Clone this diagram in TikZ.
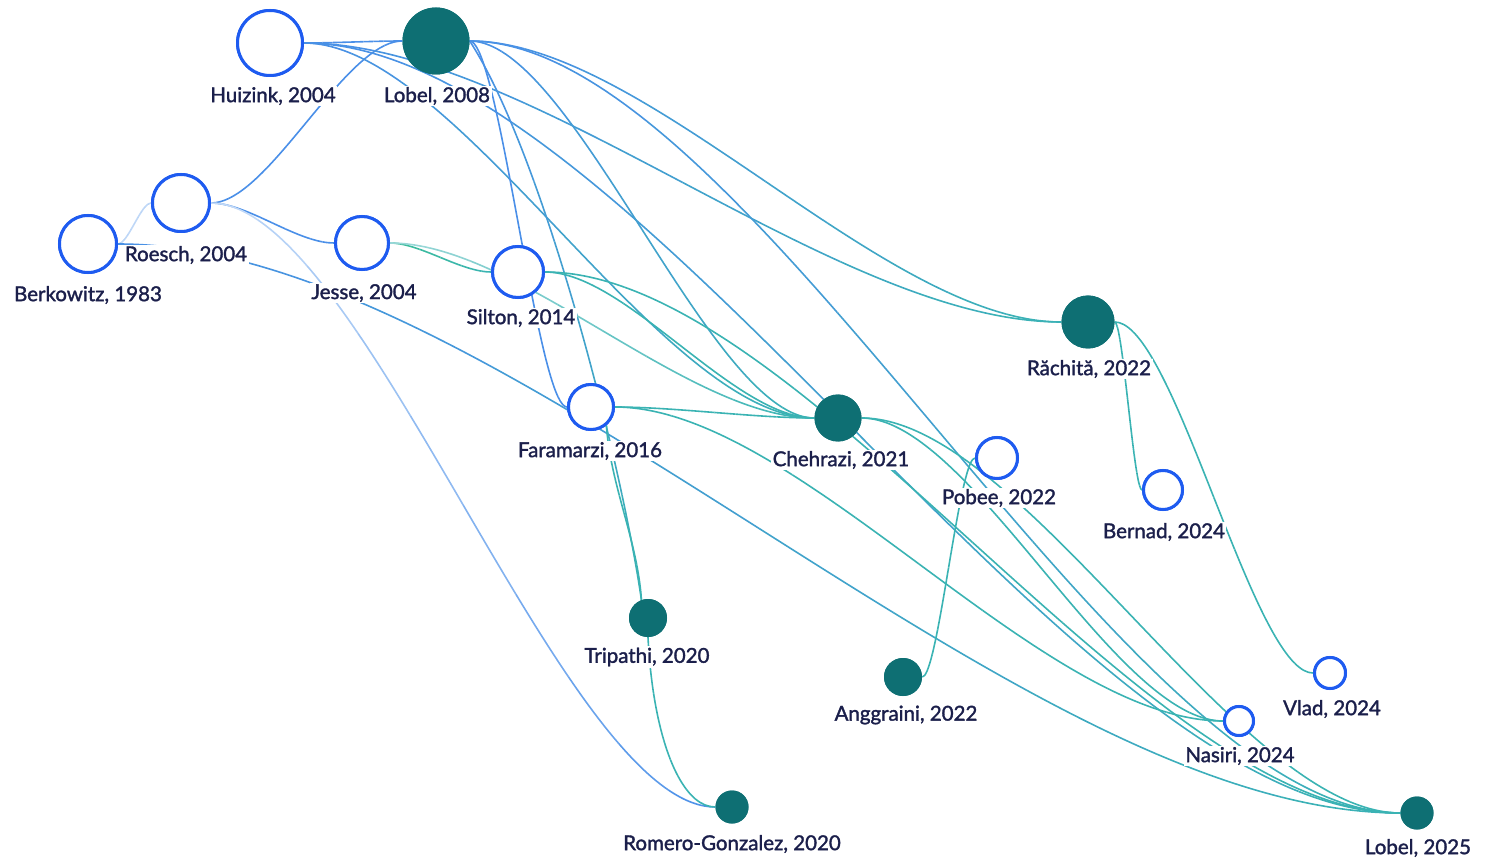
\documentclass[tikz,border=0pt]{standalone}
\usepackage{fontspec}
\setmainfont{Lato}[FakeBold=1.6]
\usetikzlibrary{calc}
\definecolor{nblue}{HTML}{1E5BF0}
\definecolor{nteal}{HTML}{0E6F73}
\definecolor{txt}{HTML}{1B1F4B}
\definecolor{eblue}{HTML}{4A8FE8}
\definecolor{eteal}{HTML}{3AB3B3}
\definecolor{egreen}{HTML}{3DBE98}
\colorlet{lblue}{eblue!30}
\colorlet{lteal}{eteal!50}
% gradient cubic curve: P0, P1, P2, P3, colour at start, colour at end, opacity
\newcommand\gcurve[7]{%
  \path #1 coordinate (gP0) #2 coordinate (gP1) #3 coordinate (gP2) #4 coordinate (gP3);
  \foreach \k in {0,...,9}{%
    \pgfmathsetmacro\ta{\k/10}\pgfmathsetmacro\tb{(\k+1)/10}%
    \pgfmathtruncatemacro\pc{10*\k+5}%
    \colorlet{segc}{#6!\pc!#5}%
    \pgfsetstrokecolor{segc}%
    \pgfsetstrokeopacity{#7}%
    \pgfsetlinewidth{1.6pt}%
    \pgfpathcurvebetweentime{\ta}{\tb}{\pgfpointanchor{gP0}{center}}{\pgfpointanchor{gP1}{center}}{\pgfpointanchor{gP2}{center}}{\pgfpointanchor{gP3}{center}}%
    \pgfusepath{stroke}%
  }%
}
% edge from east of #1 to west of #2 with horizontal tangents
\newcommand\cedge[5]{%
  \path (#1.east) coordinate (eA) (#2.west) coordinate (eB);
  \path ($(eA)!0.3!(eB)$) coordinate (eM1) ($(eA)!0.7!(eB)$) coordinate (eM2);
  \gcurve{(eA)}{(eM1 |- eA)}{(eM2 |- eB)}{(eB)}{#3}{#4}{#5}%
}
\tikzset{
  ring/.style={circle, draw=nblue, line width=3pt, fill=white, inner sep=0pt},
  dot/.style={circle, fill=nteal, draw=none, inner sep=0pt},
  lab/.style={fill=white, inner sep=1.5pt, text=txt, font=\fontsize{20.5}{24}\selectfont}
}
\begin{document}
\begin{tikzpicture}[x=1pt,y=-1pt]
\useasboundingbox (0,0) rectangle (1502,858);
\path
  (270,43) node[ring, minimum size=65pt] (huiz) {}
  (436,41) node[dot, minimum size=67pt] (lob08) {}
  (181,203) node[ring, minimum size=57pt] (roe) {}
  (88,244) node[ring, minimum size=57pt] (berk) {}
  (362,243) node[ring, minimum size=53pt] (jes) {}
  (518,272) node[ring, minimum size=51pt] (sil) {}
  (591,407) node[ring, minimum size=45pt] (far) {}
  (838,418) node[dot, minimum size=47pt] (che) {}
  (1088,322) node[dot, minimum size=53pt] (rac) {}
  (997,458) node[ring, minimum size=41pt] (pob) {}
  (1163,490) node[ring, minimum size=39pt] (ber) {}
  (648,618) node[dot, minimum size=38pt] (tri) {}
  (903,677) node[dot, minimum size=38pt] (ang) {}
  (732,807) node[dot, minimum size=33pt] (rom) {}
  (1330,673) node[ring, minimum size=31pt] (vla) {}
  (1239,721) node[ring, minimum size=29pt] (nas) {}
  (1417,813) node[dot, minimum size=33pt] (lob25) {};
% edges
\cedge{berk}{roe}{eblue}{eblue}{0.35}
\cedge{berk}{lob25}{eblue}{eteal}{1}
\cedge{roe}{lob08}{eblue}{eblue}{1}
\cedge{roe}{jes}{eblue}{eblue}{1}
\cedge{roe}{rom}{lblue}{eblue}{1}
\cedge{huiz}{lob08}{eblue}{eblue}{1}
\cedge{huiz}{rac}{eblue}{eteal}{1}
\cedge{huiz}{che}{eblue}{eteal}{1}
\cedge{huiz}{lob25}{eblue}{eteal}{1}
\cedge{lob08}{rac}{eblue}{eteal}{1}
\cedge{lob08}{che}{eblue}{eteal}{1}
\cedge{lob08}{far}{eblue}{eblue}{1}
\gcurve{(lob08.east)}{($(lob08.east)+(71,109)$)}{($(tri.110)+(-22,-150)$)}{(tri.110)}{eblue}{eteal}{1}
\cedge{lob08}{lob25}{eblue}{eteal}{1}
\cedge{jes}{sil}{egreen}{eteal}{1}
\cedge{jes}{che}{lteal}{eteal}{1}
\cedge{sil}{che}{eteal}{eteal}{1}
\cedge{sil}{lob25}{eteal}{eteal}{1}
\cedge{far}{che}{eteal}{eteal}{1}
\gcurve{(far.-50)}{($(far.-50)+(4,60)$)}{($(tri.110)+(-4,-60)$)}{(tri.110)}{eteal}{eteal}{1}
\cedge{far}{nas}{eteal}{eteal}{1}
\gcurve{(tri.south)}{($(tri.south)+(5,100)$)}{($(rom.west)+(-35,0)$)}{(rom.west)}{eteal}{eteal}{1}
\cedge{che}{nas}{eteal}{eteal}{1}
\cedge{che}{lob25}{eteal}{eteal}{1}
\cedge{ang}{pob}{eteal}{eteal}{1}
\cedge{rac}{ber}{eteal}{eteal}{1}
\cedge{rac}{vla}{eteal}{eteal}{1}
% redraw nodes on top
\path
  (270,43) node[ring, minimum size=65pt] {}
  (436,41) node[dot, minimum size=67pt] {}
  (181,203) node[ring, minimum size=57pt] {}
  (88,244) node[ring, minimum size=57pt] {}
  (362,243) node[ring, minimum size=53pt] {}
  (518,272) node[ring, minimum size=51pt] {}
  (591,407) node[ring, minimum size=45pt] {}
  (838,418) node[dot, minimum size=47pt] {}
  (1088,322) node[dot, minimum size=53pt] {}
  (997,458) node[ring, minimum size=41pt] {}
  (1163,490) node[ring, minimum size=39pt] {}
  (648,618) node[dot, minimum size=38pt] {}
  (903,677) node[dot, minimum size=38pt] {}
  (732,807) node[dot, minimum size=33pt] {}
  (1330,673) node[ring, minimum size=31pt] {}
  (1239,721) node[ring, minimum size=29pt] {}
  (1417,813) node[dot, minimum size=33pt] {};
% labels
\node[lab] (huizL) at (273,96) {Huizink, 2004};
\node[lab] (lob08L) at (437,96) {Lobel, 2008};
\node[lab] (roeL) at (186,255) {Roesch, 2004};
\node[lab] (berkL) at (88,295) {Berkowitz, 1983};
\node[lab] (jesL) at (364,293) {Jesse, 2004};
\node[lab] (silL) at (521,318) {Silton, 2014};
\node[lab] (farL) at (590,451) {Faramarzi, 2016};
\node[lab] (cheL) at (841,460) {Chehrazi, 2021};
\node[lab] (racL) at (1089,369) {Răchită, 2022};
\node[lab] (pobL) at (999,498) {Pobee, 2022};
\node[lab] (berL) at (1164,532) {Bernad, 2024};
\node[lab] (triL) at (647,657) {Tripathi, 2020};
\node[lab] (angL) at (906,715) {Anggraini, 2022};
\node[lab] (romL) at (732,844) {Romero-Gonzalez, 2020};
\node[lab] (vlaL) at (1332,709) {Vlad, 2024};
\node[lab] (nasL) at (1240,756) {Nasiri, 2024};
\node[lab] (lob25L) at (1418,848) {Lobel, 2025};
\end{tikzpicture}
\end{document}
